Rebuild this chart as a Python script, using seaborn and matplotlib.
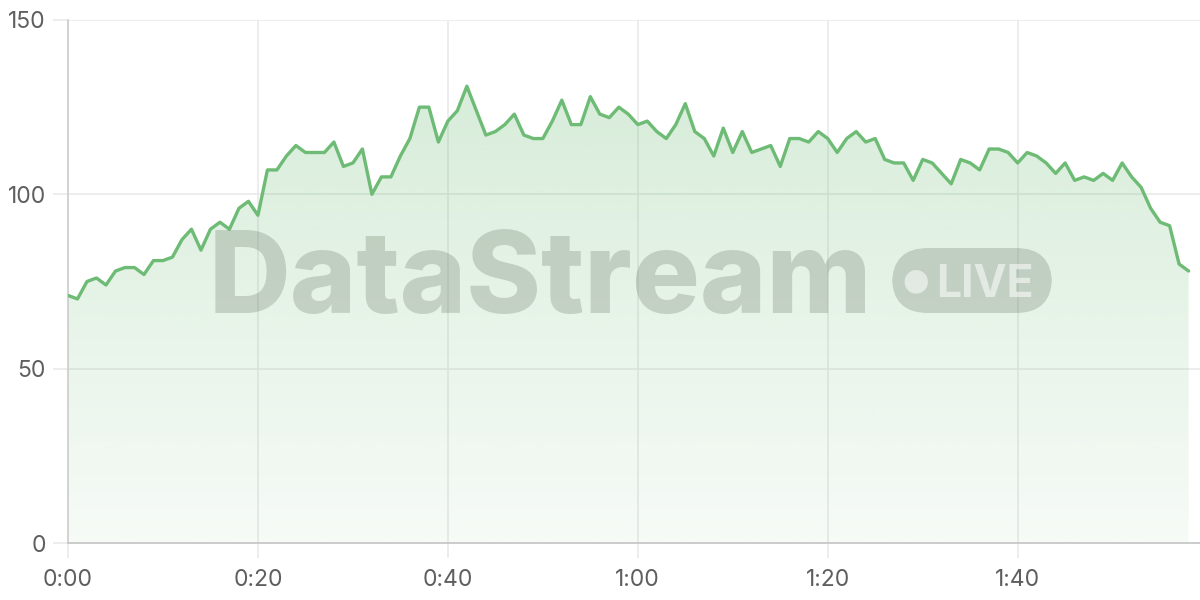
import numpy as np
import matplotlib
matplotlib.use("Agg")
import matplotlib.pyplot as plt
import seaborn as sns
from matplotlib.patches import Polygon, FancyBboxPatch

# =========================
# DATA
# =========================

values = [71, 70, 75, 76, 74, 78, 79, 79, 77, 81, 81, 82, 87, 90, 84, 90, 92, 90, 96, 98,
          94, 107, 107, 111, 114, 112, 112, 112, 115, 108, 109,
          113, 100, 105, 105, 111, 116, 125, 125, 115, 121, 124, 131, 124, 117, 118, 120,
          123, 117, 116, 116, 121, 127, 120, 120, 128, 123, 122, 125, 123, 120,
          121, 118, 116, 120, 126, 118, 116, 111, 119, 112, 118, 112, 113, 114, 108, 116,
          116, 115, 118, 116, 112, 116, 118, 115, 116, 110, 109, 109, 104,
          110, 109, 106, 103, 110, 109, 107, 113, 113, 112, 109, 112, 111, 109, 106, 109,
          104, 105, 104, 106, 104, 109, 105, 102, 96, 92, 91, 80, 78]
seconds = list(range(len(values)))

x_tick_secs = [0, 20, 40, 60, 80, 100]
x_tick_labels = ["0:00", "0:20", "0:40", "1:00", "1:20", "1:40"]
y_ticks = [0, 50, 100, 150]

line_color = "#6dbb75"
tick_color = "#5f5f5f"
grid_color = "#e8e8e8"

# =========================
# FIGURE
# =========================

sns.set_theme(style="white")
plt.rcParams['font.family'] = ['Inter', 'DejaVu Sans']

fig = plt.figure(figsize=(12, 6), dpi=100)
ax = fig.add_axes([68 / 1200, 57 / 600, 1132 / 1200, 523 / 600])

x_max = 119.2
ax.set_xlim(0, x_max)
ax.set_ylim(0, 150)

# gradient fill under the line
verts = [(seconds[0], 0)] + list(zip(seconds, values)) + [(seconds[-1], 0)]
clip = Polygon(verts, closed=True, facecolor="none", edgecolor="none")
ax.add_patch(clip)

grad = np.zeros((256, 1, 4))
grad[:, 0, 0] = 109 / 255
grad[:, 0, 1] = 187 / 255
grad[:, 0, 2] = 117 / 255
grad[:, 0, 3] = np.linspace(0.06, 0.30, 256)
im = ax.imshow(grad, extent=[0, x_max, 0, 150], origin="lower",
               aspect="auto", zorder=1)
im.set_clip_path(clip)

# line
sns.lineplot(x=seconds, y=values, ax=ax, color=line_color, linewidth=2.4, zorder=4)

# grid and spines
ax.set_xticks(x_tick_secs)
ax.set_xticklabels(x_tick_labels)
ax.set_yticks(y_ticks)
ax.grid(True, color=grid_color, linewidth=1.1, zorder=0)
ax.set_axisbelow(True)
for side in ["top", "right"]:
    ax.spines[side].set_visible(False)
ax.spines["left"].set_color("#d0d0d0")
ax.spines["bottom"].set_color("#c8c8c8")
ax.spines["left"].set_linewidth(1.3)
ax.spines["bottom"].set_linewidth(1.3)
ax.tick_params(axis="both", bottom=True, left=True, length=11, width=1.1,
               color=grid_color, labelcolor=tick_color, labelsize=16.5)
ax.tick_params(axis="x", pad=8)
ax.tick_params(axis="y", pad=5)
ax.set_xlabel("")
ax.set_ylabel("")

# =========================
# WATERMARK
# =========================

wm_color = "#5f6e5f"
fig.text(209 / 1200, 1 - 313 / 600, "DataStream", ha="left", va="baseline",
         fontsize=81.5, fontweight="heavy", color=wm_color, alpha=0.26, zorder=3)

badge = FancyBboxPatch((892 / 1200, 1 - 313 / 600), 160 / 1200, 65 / 600,
                       boxstyle="round,pad=0,rounding_size=0.03",
                       transform=fig.transFigure, facecolor=wm_color,
                       edgecolor="none", alpha=0.26, zorder=3,
                       mutation_aspect=2)
fig.patches.append(badge)
fig.text(916 / 1200, 1 - 281 / 600, "\u25CF", ha="center", va="center",
         fontsize=22, color="white", alpha=0.55, family="DejaVu Sans")
fig.text(936 / 1200, 1 - 297 / 600, "LIVE", ha="left", va="baseline",
         fontsize=32, fontweight="bold", color="white", alpha=0.55)

fig.savefig("out.png", dpi=100)
